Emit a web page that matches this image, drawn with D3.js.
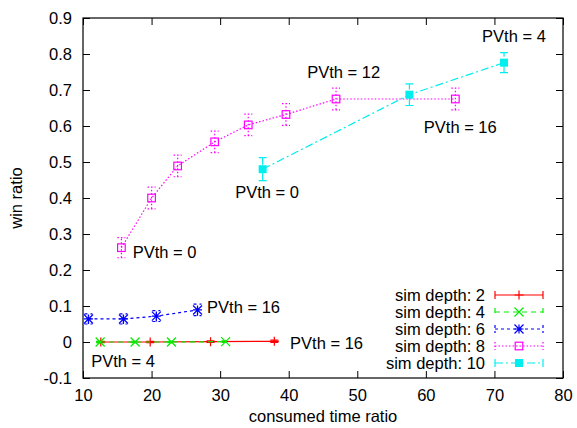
<!DOCTYPE html>
<html>
<head>
<meta charset="utf-8">
<script src="https://cdn.jsdelivr.net/npm/d3@7"></script>
<style>
  body { margin: 0; background: #fff; }
  svg text { font-family: "Liberation Sans", Arial, sans-serif; font-size: 16.5px; fill: #000; }
</style>
</head>
<body>
<div id="chart"></div>
<script>
// series data: [x, y, err]
const depth2 = [[12.6, 0.0, 0.002], [19.8, 0.0, 0.002], [28.6, 0.001, 0.002], [37.9, 0.002, 0.003]];
const depth4 = [[12.5, 0.0, 0.002], [17.6, 0.0, 0.002], [22.9, 0.0, 0.002], [30.8, 0.001, 0.002]];
const depth6 = [[10.8, 0.064, 0.014], [15.9, 0.064, 0.014], [20.7, 0.072, 0.015], [26.7, 0.089, 0.016]];
const depth8 = [[15.6, 0.262, 0.028], [20.0, 0.40, 0.03], [23.8, 0.489, 0.03], [29.2, 0.556, 0.03],
                [34.1, 0.603, 0.03], [39.6, 0.632, 0.03], [46.9, 0.675, 0.03], [64.3, 0.675, 0.03]];
const depth10 = [[36.2, 0.48, 0.032], [57.6, 0.687, 0.03], [71.4, 0.776, 0.028]];

const seriesNames = ["sim depth: 2", "sim depth: 4", "sim depth: 6", "sim depth: 8", "sim depth: 10"];
const seriesData = [depth2, depth4, depth6, depth8, depth10];

// annotations: [x, y, text]
const labels = [
  [17.25, 0.25, "PVth = 0"],
  [28.1, 0.097, "PVth = 16"],
  [40.2, -0.003, "PVth = 16"],
  [11.2, -0.053, "PVth = 4"],
  [32.2, 0.417, "PVth = 0"],
  [42.7, 0.75, "PVth = 12"],
  [59.7, 0.597, "PVth = 16"],
  [68.2, 0.85, "PVth = 4"]
];

const xTicks = [10, 20, 30, 40, 50, 60, 70, 80];
const yTicks = [-0.1, 0, 0.1, 0.2, 0.3, 0.4, 0.5, 0.6, 0.7, 0.8, 0.9];

const margin = { top: 18, right: 14, bottom: 50, left: 83 };
const W = 577, H = 428;
const width = W - margin.left - margin.right;
const height = H - margin.top - margin.bottom;

const styles = [
  { color: "#ff0000", dash: null, mark: "plus" },
  { color: "#00ee00", dash: "5 4", mark: "cross" },
  { color: "#0000ff", dash: "3 3", mark: "star" },
  { color: "#ff00ff", dash: "1.5 2", mark: "box" },
  { color: "#00eeee", dash: "8 3 2 3", mark: "fbox" }
];

const svg = d3.select("#chart").append("svg")
    .attr("width", W)
    .attr("height", H);

const g = svg.append("g")
    .attr("transform", `translate(${margin.left},${margin.top})`);

const x = d3.scaleLinear().domain([10, 80]).range([0, width]);
const y = d3.scaleLinear().domain([-0.1, 0.9]).range([height, 0]);

const fmtY = d => d3.format(".1f")(d).replace(/\.0$/, "").replace("−", "-");

// axes with inward ticks, mirrored
g.append("g")
    .attr("transform", `translate(0,${height})`)
    .call(d3.axisBottom(x).tickValues(xTicks).tickSizeInner(-7).tickSizeOuter(0).tickPadding(11))
    .call(a => a.select(".domain").remove());
g.append("g")
    .call(d3.axisTop(x).tickValues(xTicks).tickSizeInner(-7).tickSizeOuter(0).tickFormat(""))
    .call(a => a.select(".domain").remove());
g.append("g")
    .call(d3.axisLeft(y).tickValues(yTicks).tickSizeInner(-7).tickSizeOuter(0).tickPadding(11).tickFormat(fmtY))
    .call(a => a.select(".domain").remove());
g.append("g")
    .attr("transform", `translate(${width},0)`)
    .call(d3.axisRight(y).tickValues(yTicks).tickSizeInner(-7).tickSizeOuter(0).tickFormat(""))
    .call(a => a.select(".domain").remove());

g.selectAll(".tick line").attr("stroke", "#000");
g.selectAll(".tick text").style("font-size", "16.5px").attr("fill", "#000");

g.append("rect")
    .attr("width", width)
    .attr("height", height)
    .attr("fill", "none")
    .attr("stroke", "#000")
    .attr("stroke-width", 1.2);

// axis titles
svg.append("text")
    .attr("x", margin.left + width / 2)
    .attr("y", H - 6)
    .attr("text-anchor", "middle")
    .text("consumed time ratio");
svg.append("text")
    .attr("transform", `translate(22,${margin.top + height / 2}) rotate(-90)`)
    .attr("text-anchor", "middle")
    .text("win ratio");

function drawMark(sel, kind, color, s) {
  if (kind === "plus") {
    sel.append("path").attr("d", `M${-s},0H${s}M0,${-s}V${s}`).attr("stroke", color).attr("stroke-width", 1.2).attr("fill", "none");
  } else if (kind === "cross") {
    sel.append("path").attr("d", `M${-s},${-s}L${s},${s}M${-s},${s}L${s},${-s}`).attr("stroke", color).attr("stroke-width", 1.2).attr("fill", "none");
  } else if (kind === "star") {
    sel.append("path").attr("d", `M${-s},0H${s}M0,${-s}V${s}M${-s},${-s}L${s},${s}M${-s},${s}L${s},${-s}`).attr("stroke", color).attr("stroke-width", 1.2).attr("fill", "none");
  } else if (kind === "box") {
    sel.append("rect").attr("x", -3.8).attr("y", -3.8).attr("width", 7.6).attr("height", 7.6).attr("stroke", color).attr("stroke-width", 1.2).attr("fill", "none");
  } else {
    sel.append("rect").attr("x", -4).attr("y", -4).attr("width", 8).attr("height", 8).attr("fill", color);
  }
}

const line = d3.line().x(d => x(d[0])).y(d => y(d[1]));

seriesData.forEach((data, i) => {
  const st = styles[i];
  const sg = g.append("g");

  sg.append("path")
      .datum(data)
      .attr("fill", "none")
      .attr("stroke", st.color)
      .attr("stroke-width", 1.2)
      .attr("stroke-dasharray", st.dash)
      .attr("d", line);

  // error bars
  sg.selectAll(".err")
    .data(data)
    .join("path")
      .attr("fill", "none")
      .attr("stroke", st.color)
      .attr("stroke-width", 1.2)
      .attr("stroke-dasharray", st.dash)
      .attr("d", d => {
        const cx = x(d[0]), y0 = y(d[1] - d[2]), y1 = y(d[1] + d[2]);
        return `M${cx},${y0}V${y1}M${cx - 4},${y0}H${cx + 4}M${cx - 4},${y1}H${cx + 4}`;
      });

  sg.selectAll(".pt")
    .data(data)
    .join("g")
      .attr("transform", d => `translate(${x(d[0])},${y(d[1])})`)
      .each(function() { drawMark(d3.select(this), st.mark, st.color, 4.5); });
});

// annotations
g.selectAll(".ann")
  .data(labels)
  .join("text")
    .attr("x", d => x(d[0]))
    .attr("y", d => y(d[1]))
    .attr("dy", "0.35em")
    .text(d => d[2]);

// legend
const legend = svg.append("g");
seriesNames.forEach((name, i) => {
  const st = styles[i];
  const ly = 295 + i * 17;
  legend.append("text")
      .attr("x", 485)
      .attr("y", ly)
      .attr("dy", "0.35em")
      .attr("text-anchor", "end")
      .text(name);
  legend.append("path")
      .attr("d", `M495,${ly}H543M495,${ly - 4}V${ly + 4}M543,${ly - 4}V${ly + 4}`)
      .attr("fill", "none")
      .attr("stroke", st.color)
      .attr("stroke-width", 1.2)
      .attr("stroke-dasharray", st.dash);
  drawMark(legend.append("g").attr("transform", `translate(519,${ly})`), st.mark, st.color, 4.5);
});
</script>
</body>
</html>
